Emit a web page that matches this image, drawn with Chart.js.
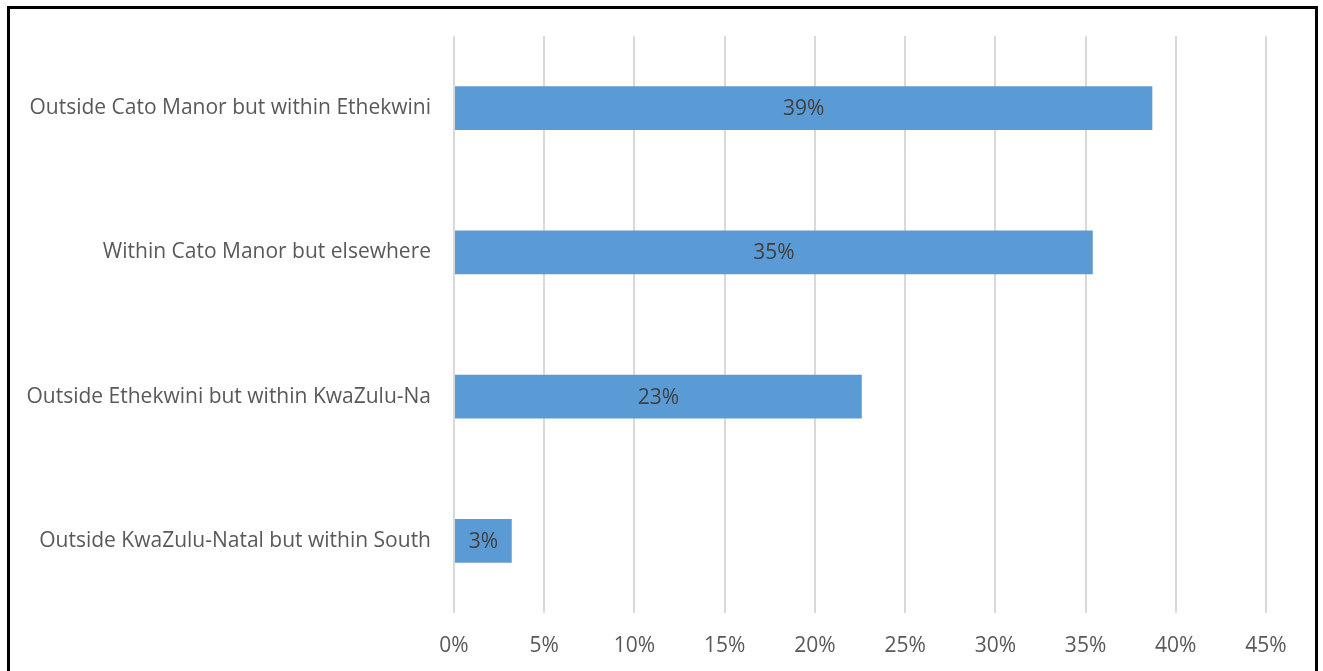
<!DOCTYPE html>
<html>
<head>
<meta charset="utf-8">
<script src="https://cdn.jsdelivr.net/npm/chart.js@4/dist/chart.umd.min.js"></script>
<style>
  html, body { margin: 0; padding: 0; background: #fff; }
  body { width: 1323px; height: 671px; overflow: hidden; position: relative; }
  #frame {
    position: absolute; left: 7px; top: 6px; width: 1305px; height: 700px;
    border: 3px solid #000; border-bottom: none; box-sizing: content-box;
  }
  #wrap { position: absolute; left: 0; top: 0; width: 1323px; height: 671px; }
</style>
</head>
<body>
<div id="frame"></div>
<div id="wrap"><canvas id="c" width="1323" height="671"></canvas></div>
<script>
// Where households came from, share of respondents
const categories = [
  "Outside Cato Manor but within Ethekwini",
  "Within Cato Manor but elsewhere",
  "Outside Ethekwini but within KwaZulu-Na",
  "Outside KwaZulu-Natal but within South"
];
const shares = [38.7, 35.4, 22.6, 3.2];
const xTicks = [0, 5, 10, 15, 20, 25, 30, 35, 40, 45];

const FONT = "'Open Sans', sans-serif";
const SIZE = 21;

// Writes the rounded percentage in the middle of each bar
const barValueLabels = {
  id: 'barValueLabels',
  afterDatasetsDraw(chart) {
    const ctx = chart.ctx;
    const meta = chart.getDatasetMeta(0);
    ctx.save();
    ctx.font = SIZE + "px " + FONT;
    ctx.fillStyle = '#404040';
    ctx.textAlign = 'center';
    ctx.textBaseline = 'middle';
    meta.data.forEach((bar, i) => {
      const v = chart.data.datasets[0].data[i];
      ctx.fillText(Math.round(v) + '%', (bar.x + bar.base) / 2, bar.y + 1);
    });
    ctx.restore();
  }
};

new Chart(document.getElementById('c'), {
  type: 'bar',
  data: {
    labels: categories,
    datasets: [{
      data: shares,
      backgroundColor: '#5b9bd5',
      borderWidth: 0,
      categoryPercentage: 1,
      barPercentage: 0.305
    }]
  },
  options: {
    indexAxis: 'y',
    responsive: false,
    animation: false,
    layout: { padding: { left: 0, right: 57, top: 36, bottom: 0 } },
    plugins: { legend: { display: false }, tooltip: { enabled: false } },
    scales: {
      x: {
        min: 0, max: 45,
        afterBuildTicks(scale) { scale.ticks = xTicks.map(v => ({ value: v })); },
        afterFit(scale) { scale.height = 58; },
        grid: { color: '#d9d9d9', lineWidth: 2, drawTicks: false },
        border: { display: false },
        ticks: {
          padding: 20,
          color: '#595959',
          font: { family: FONT, size: SIZE },
          callback: v => v + '%'
        }
      },
      y: {
        afterFit(scale) { scale.width = 454; },
        grid: { display: false, drawTicks: false },
        border: { display: false },
        ticks: {
          padding: 23,
          color: '#595959',
          font: { family: FONT, size: SIZE }
        }
      }
    }
  },
  plugins: [barValueLabels]
});
</script>
</body>
</html>
